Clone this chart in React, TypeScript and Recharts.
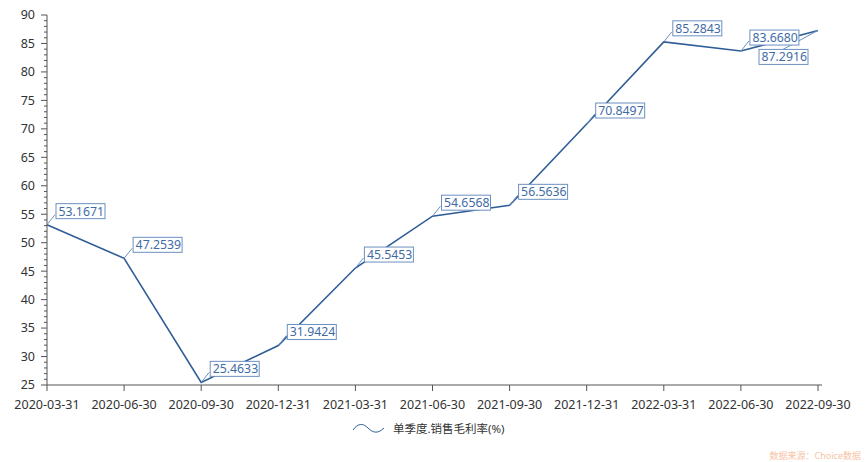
import React from "react";
import { LineChart, Line, XAxis, YAxis, LabelList, Legend } from "recharts";

const dates = [
  "2020-03-31", "2020-06-30", "2020-09-30", "2020-12-31", "2021-03-31", "2021-06-30",
  "2021-09-30", "2021-12-31", "2022-03-31", "2022-06-30", "2022-09-30",
];
const grossMargin = [
  53.1671, 47.2539, 25.4633, 31.9424, 45.5453, 54.6568,
  56.5636, 70.8497, 85.2843, 83.668, 87.2916,
];
const labelTexts = [
  "53.1671", "47.2539", "25.4633", "31.9424", "45.5453", "54.6568",
  "56.5636", "70.8497", "85.2843", "83.6680", "87.2916",
];
const seriesName = "单季度.销售毛利率(%)";
const sourceNote = "数据来源：Choice数据";
const yTicks: number[] = [];
for (let v = 25; v <= 90; v += 1) yTicks.push(v);

const data = dates.map((d, i) => ({ date: d, value: grossMargin[i], label: labelTexts[i] }));

const FONT = "'Noto Sans', 'Noto Sans CJK SC', sans-serif";
const LINE_COLOR = "#2f5d97";
const LABEL_TEXT = "#3f6ba5";
const LABEL_BORDER = "#6d90c0";
const AXIS_COLOR = "#555";
const LAST = dates.length - 1;

const YTick = (props: any) => {
  const { x, y, payload } = props;
  const v = payload.value as number;
  const major = v % 5 === 0;
  return (
    <g>
      <line x1={x - (major ? 6 : 3)} x2={x} y1={y} y2={y} stroke={AXIS_COLOR} strokeWidth={1} />
      {major && (
        <text x={x - 12} y={y} dy="0.35em" textAnchor="end" fontSize={12.5} fill="#333" fontFamily={FONT}>
          {v}
        </text>
      )}
    </g>
  );
};

const Leader = (props: any) => {
  const { x, y, index } = props;
  if (x == null || y == null) return null;
  const end = index === LAST ? { x: x - 35, y: y + 19 } : { x: x + 8, y: y - 10 };
  return <line x1={x} y1={y} x2={end.x} y2={end.y} stroke={LABEL_BORDER} strokeWidth={1} />;
};

const Box = (props: any) => {
  const { x, y, index, value } = props;
  if (x == null || y == null) return null;
  const w = 49;
  const h = 15;
  const left = index === LAST ? x - 59 : x + 9;
  const top = index === LAST ? y + 19 : y - 21;
  return (
    <g>
      <rect x={left} y={top} width={w} height={h} fill="#fff" stroke={LABEL_BORDER} strokeWidth={1} />
      <text x={left + 2.5} y={top + 12} fontSize={12.3} fill={LABEL_TEXT} fontFamily={FONT}>
        {labelTexts[index] ?? value}
      </text>
    </g>
  );
};

const LegendContent = () => (
  <div style={{ position: "relative", width: 865, height: 20, fontFamily: FONT }}>
    <svg style={{ position: "absolute", left: 352, top: 4 }} width={33} height={12}>
      <path d="M1,7 C6,0 11,0 16,5 C21,10 26,11 32,5" fill="none" stroke={LINE_COLOR} strokeWidth={1} />
    </svg>
    <span
      style={{ position: "absolute", left: 393, top: 0, lineHeight: "20px", fontSize: 11.5, color: "#333", whiteSpace: "nowrap" }}
    >
      {seriesName}
    </span>
    <span
      style={{ position: "absolute", right: 4, top: 30, lineHeight: "14px", fontSize: 9, color: "#f7c3a3", whiteSpace: "nowrap" }}
    >
      {sourceNote}
    </span>
  </div>
);

export default function App() {
  return (
    <div style={{ position: "absolute", left: 0, top: 0, width: 865, height: 462, background: "#fff" }}>
      <LineChart width={865} height={462} data={data} margin={{ top: 15, right: 43, bottom: 23, left: 0 }}>
        <XAxis
          dataKey="date"
          padding={{ left: 0, right: 4 }}
          interval={0}
          tickSize={6}
          tickMargin={9}
          height={34}
          stroke={AXIS_COLOR}
          tick={{ fontSize: 12.5, fill: "#333", fontFamily: FONT }}
        />
        <YAxis
          domain={[25, 90]}
          ticks={yTicks}
          interval={0}
          width={47}
          tickSize={0}
          tickMargin={0}
          stroke={AXIS_COLOR}
          tickLine={false}
          tick={<YTick />}
          allowDataOverflow
        />
        <Legend verticalAlign="bottom" content={<LegendContent />} wrapperStyle={{ left: 0, width: 865, height: 20 }} />
        <Line
          type="linear"
          dataKey="value"
          name={seriesName}
          stroke={LINE_COLOR}
          strokeWidth={1.6}
          dot={false}
          activeDot={false}
          isAnimationActive={false}
        >
          <LabelList dataKey="value" content={<Leader />} />
          <LabelList dataKey="value" content={<Box />} />
        </Line>
      </LineChart>
    </div>
  );
}
